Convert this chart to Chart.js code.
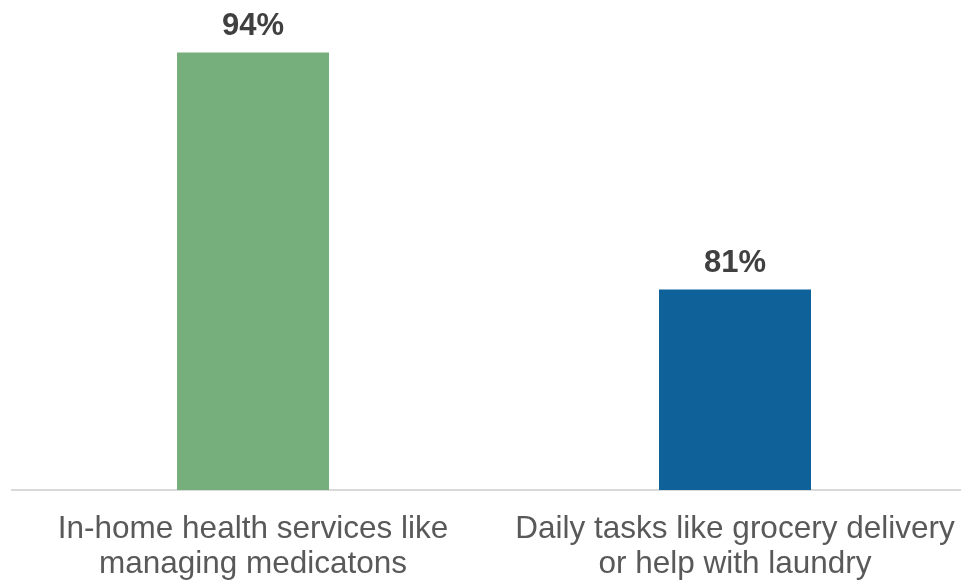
<!DOCTYPE html>
<html>
<head>
<meta charset="utf-8">
<script src="https://cdn.jsdelivr.net/npm/chart.js@4/dist/chart.umd.min.js"></script>
<style>
  html, body { margin: 0; padding: 0; background: #ffffff; overflow: hidden; }
  #wrap { width: 976px; height: 580px; }
</style>
</head>
<body>
<div id="wrap"><canvas id="c" width="976" height="580"></canvas></div>
<script>
const categories = [
  ["In-home health services like", "managing medicatons"],
  ["Daily tasks like grocery delivery", "or help with laundry"]
];
const values = [94, 81];
const barColors = ["#76AF7C", "#0F6299"];
const valueLabels = ["94%", "81%"];

const labelPlugin = {
  id: 'valueLabels',
  afterDatasetsDraw(chart) {
    const ctx = chart.ctx;
    const meta = chart.getDatasetMeta(0);
    ctx.save();
    ctx.font = "bold 31px 'Liberation Sans', Arial, sans-serif";
    ctx.fillStyle = "#404040";
    ctx.textAlign = "center";
    ctx.textBaseline = "alphabetic";
    meta.data.forEach((bar, i) => {
      ctx.fillText(valueLabels[i], bar.x, bar.y - 17);
    });
    ctx.restore();
  }
};

new Chart(document.getElementById('c'), {
  type: 'bar',
  data: {
    labels: categories,
    datasets: [{
      data: values,
      backgroundColor: barColors,
      borderWidth: 0,
      barPercentage: 1,
      categoryPercentage: 152 / 482
    }]
  },
  options: {
    responsive: false,
    devicePixelRatio: 1,
    animation: false,
    layout: { padding: { left: 12, right: 0, top: 16, bottom: 0 } },
    plugins: { legend: { display: false }, tooltip: { enabled: false } },
    scales: {
      x: {
        grid: { display: false },
        border: { display: true, color: '#d9d9d9', width: 2 },
        ticks: {
          color: '#595959',
          padding: 14,
          maxRotation: 0,
          autoSkip: false,
          font: { family: "'Liberation Sans', Arial, sans-serif", size: 31.5, lineHeight: 1.11 }
        },
        afterFit(scale) { scale.height = 90; }
      },
      y: {
        display: false,
        min: 70,
        max: 96
      }
    }
  },
  plugins: [labelPlugin]
});
</script>
</body>
</html>
